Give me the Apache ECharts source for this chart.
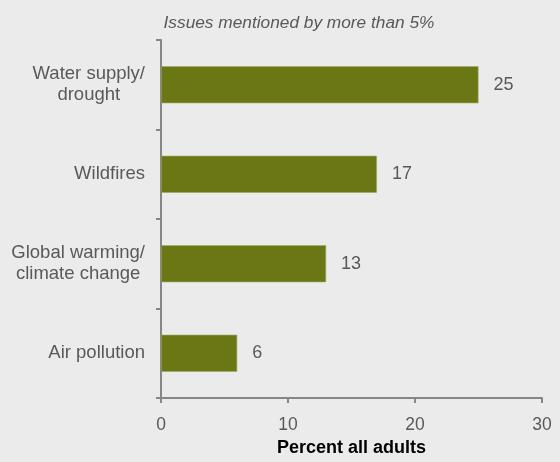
<!DOCTYPE html>
<html><head><meta charset="utf-8">
<script src="https://cdn.jsdelivr.net/npm/echarts@6/dist/echarts.min.js"></script>
<style>html,body{margin:0;padding:0;background:#ebebeb;}#c{width:560px;height:462px;}</style>
</head><body><div id="c"></div>
<script>
const categories = ['Water supply/\ndrought', 'Wildfires', 'Global warming/\nclimate change', 'Air pollution'];
const values = [25, 17, 13, 6];
const xTicks = [0, 10, 20, 30];
const titleText = 'Issues mentioned by more than 5%';
const xName = 'Percent all adults';

const chart = echarts.init(document.getElementById('c'));
chart.setOption({
  backgroundColor: '#ebebeb',
  animation: false,
  title: {
    text: titleText, left: 294, top: 10, textAlign: 'center',
    textStyle: {fontFamily: 'Liberation Sans', fontStyle: 'italic', fontWeight: 'normal', fontSize: 17.3, color: '#595959'}
  },
  grid: {left: 161, right: 18, top: 40, bottom: 56, containLabel: false},
  xAxis: {
    type: 'value', min: xTicks[0], max: xTicks[xTicks.length - 1], interval: 10,
    name: xName, nameLocation: 'middle', nameGap: 41,
    nameTextStyle: {fontFamily: 'Liberation Sans', fontWeight: 'bold', fontSize: 18, color: '#000'},
    axisLine: {show: true, lineStyle: {color: '#868686', width: 2}},
    axisTick: {show: true, length: 5, lineStyle: {color: '#868686', width: 2}},
    axisLabel: {fontFamily: 'Liberation Sans', fontSize: 17.5, color: '#595959', margin: 18},
    splitLine: {show: false}
  },
  yAxis: {
    type: 'category', data: categories, inverse: true,
    axisLine: {show: true, lineStyle: {color: '#868686', width: 2}},
    axisTick: {show: true, length: 5, lineStyle: {color: '#868686', width: 2}},
    axisLabel: {
      fontFamily: 'Liberation Sans', fontSize: 18.5, color: '#595959', margin: 16, align: 'right',
      formatter: v => v.split('\n').map(s => '{c|' + s + '}').join('\n'),
      rich: {c: {align: 'center', fontFamily: 'Liberation Sans', fontSize: 18.5, color: '#595959', lineHeight: 21}}
    },
    splitLine: {show: false}
  },
  series: [{
    type: 'bar', data: values, barWidth: 37,
    itemStyle: {color: '#6b7714', borderColor: '#a0a865', borderWidth: 0.6},
    label: {show: true, position: 'right', distance: 15, fontFamily: 'Liberation Sans', fontSize: 18, color: '#595959'}
  }]
});
</script></body></html>
